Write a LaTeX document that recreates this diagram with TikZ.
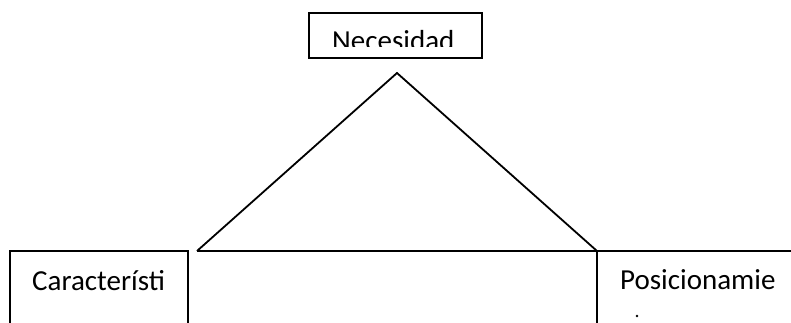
\documentclass[tikz,border=0pt]{standalone}
\usepackage{fontspec}
\setmainfont{Carlito}
\begin{document}
\begin{tikzpicture}[x=1pt,y=-1pt,
  edge/.style={line width=1.8pt,black},
  lbl/.style={inner sep=0pt,anchor=base west,font=\fontsize{29}{34}\selectfont}]
\useasboundingbox (0,0) rectangle (791,323);
% top box
\draw[edge] (309,13) rectangle (482,58);
\begin{scope}
\clip (309,13) rectangle (482,47);
\node[lbl] (nec) at (332,51) {Necesidad};
\end{scope}
% triangle
\coordinate (apex) at (397,73);
\coordinate (bl) at (197,251);
\coordinate (br) at (597,251);
\coordinate (rend) at (791,251);
\draw[edge] (bl) -- (apex) -- (br);
\draw[edge] (bl) -- (rend);
% left box
\draw[edge] (10,330) -- (10,251) -- (188,251) -- (188,330);
\node[lbl] (car) at (32,290) {Característi};
% right box
\coordinate (rbot) at (597,330);
\draw[edge] (br) -- (rbot);
\node[lbl] (pos) at (620,289) {Posicionamie};
\fill (637,316) circle (1.3);
\end{tikzpicture}
\end{document}
